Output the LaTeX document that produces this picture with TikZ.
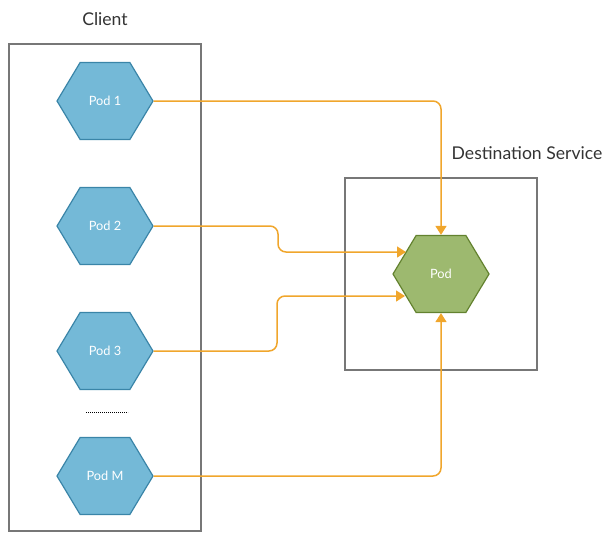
\documentclass[tikz,border=0pt]{standalone}
\usepackage{fontspec}
\setmainfont{Lato}
\usetikzlibrary{shapes.symbols,arrows.meta}
\definecolor{podblue}{HTML}{74B9D7}
\definecolor{podblueline}{HTML}{3A85A8}
\definecolor{podgreen}{HTML}{9DB96F}
\definecolor{podgreenline}{HTML}{63822F}
\definecolor{floworange}{HTML}{F0A62C}
\definecolor{framegray}{HTML}{777777}
\definecolor{titlegray}{HTML}{333333}

\begin{document}
\begin{tikzpicture}[x=1pt,y=-1pt,
    frame/.style={draw=framegray,line width=1.6pt,inner sep=0pt},
    pod/.style={signal,signal to=west and east,signal pointer angle=118,
      minimum width=96pt,minimum height=77pt,inner sep=0pt,line width=1.2pt,
      text=white,font=\fontsize{12.8}{15}\selectfont},
    clientpod/.style={pod,fill=podblue,draw=podblueline},
    destpod/.style={pod,fill=podgreen,draw=podgreenline},
    flow/.style={draw=floworange,line width=1.5pt,rounded corners=8pt,
      -{Triangle[width=11pt,length=9pt]}},
    title/.style={text=titlegray,font=\fontsize{17.6}{21}\selectfont}]
    \useasboundingbox (0,0) rectangle (610,544);

    \node[frame,minimum width=192pt,minimum height=487pt] (client) at (105,287.5) {};
    \node[title] (clienttitle) at (105,19) {Client};
    \node[frame,minimum width=192pt,minimum height=192pt] (dest) at (441,274) {};
    \node[title] (desttitle) at (527,153) {Destination Service};

    \node[clientpod] (pod1) at (105,101) {Pod 1};
    \node[clientpod] (pod2) at (105,226) {Pod 2};
    \node[clientpod] (pod3) at (105,351) {Pod 3};
    \node[clientpod] (podM) at (105,476) {Pod M};
    \draw[line width=0.8pt,dash pattern=on 0.6pt off 1.4pt] (86,412) -- (128,412);

    \node[destpod] (pod) at (441,274) {Pod};

    \coordinate (jog2) at (278,252);
    \coordinate (in2) at (406,252);
    \coordinate (jog3) at (277,296);
    \coordinate (in3) at (405,296);

    \draw[flow] (pod1.east) -| (pod.north);
    \draw[flow] (pod2.east) -| (jog2) -- (in2);
    \draw[flow] (pod3.east) -| (jog3) -- (in3);
    \draw[flow] (podM.east) -| (pod.south);
\end{tikzpicture}
\end{document}
